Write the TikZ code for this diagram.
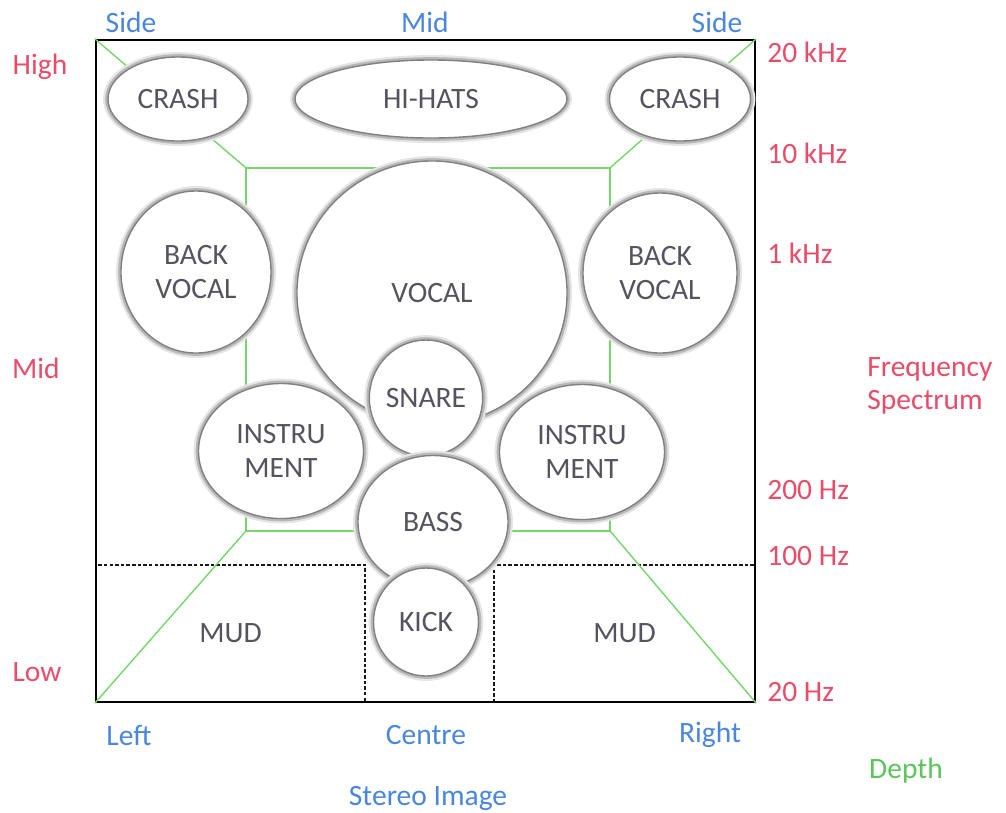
\documentclass[tikz,border=0pt]{standalone}
\usepackage{fontspec}
\setmainfont{Carlito}
\usepackage{xcolor}
\usepackage{tikz}
\usetikzlibrary{shapes.geometric}

\definecolor{freqred}{RGB}{232,76,104}
\definecolor{stereoblue}{RGB}{74,134,222}
\definecolor{depthgreen}{RGB}{92,196,92}
\definecolor{linegreen}{RGB}{118,214,108}
\definecolor{labelgray}{RGB}{84,84,94}
\newcommand\lbl{\fontsize{21}{24}\selectfont}

\begin{document}
\begin{tikzpicture}[x=0.025cm,y=-0.025cm,
  blob/.style={ellipse,draw=black!50,line width=1pt,fill=white,inner sep=0pt,align=center,text=labelgray,font=\lbl,
    preaction={draw=black!10,line width=7pt},preaction={draw=black!28,line width=4pt}},
  mud/.style={draw=black!90,dash pattern=on 2.5pt off 1.5pt,line width=1.1pt,inner sep=0pt,text=labelgray,font=\lbl},
  frq/.style={text=freqred,font=\lbl,inner sep=0pt},
  ste/.style={text=stereoblue,font=\lbl,inner sep=0pt},
  grn/.style={draw=linegreen,line width=1pt}]
\useasboundingbox (0,0) rectangle (1006,812);
% zones
\node[mud,minimum width=6.725cm,minimum height=3.425cm] (mudL) at (230.5,633.5) {MUD};
\node[mud,minimum width=6.525cm,minimum height=3.425cm] (mudR) at (624.5,633.5) {MUD};
\node[grn,minimum width=9.1cm,minimum height=9.075cm] (inner) at (428,349.5) {};
\node[draw,line width=1.6pt,minimum width=16.475cm,minimum height=16.55cm,inner sep=0pt] (frame) at (425.5,371) {};
\draw[grn] (frame.north west)--(inner.north west); \draw[grn] (frame.north east)--(inner.north east);
\draw[grn] (frame.south west)--(inner.south west); \draw[grn] (frame.south east)--(inner.south east);
% instruments
\node[blob,minimum width=3.5cm,minimum height=2.1cm] (crashL) at (178,99) {CRASH};
\node[blob,minimum width=6.8cm,minimum height=1.95cm] (hihats) at (431,99) {HI-HATS};
\node[blob,minimum width=3.525cm,minimum height=2.1cm] (crashR) at (680,99) {CRASH};
\node[blob,minimum width=3.75cm,minimum height=4.05cm] (backL) at (196,272) {BACK\\VOCAL};
\node[blob,minimum width=3.85cm,minimum height=4cm] (backR) at (660,273) {BACK\\VOCAL};
\node[blob,minimum width=6.75cm,minimum height=6.6cm] (vocal) at (432,293) {VOCAL};
\node[blob,minimum width=4.125cm,minimum height=3.375cm] (instL) at (281,451) {INSTRU\\MENT};
\node[blob,minimum width=4.125cm,minimum height=3.375cm] (instR) at (582,452) {INSTRU\\MENT};
\node[blob,minimum width=2.65cm,minimum height=2.9cm] (snare) at (426,398) {SNARE};
\node[blob,minimum width=3.75cm,minimum height=3.325cm] (bass) at (433,522) {BASS};
\node[blob,minimum width=2.625cm,minimum height=2.7cm] (kick) at (426,622) {KICK};
% axes
\node[ste] (sideL) at (131,22) {Side};
\node[ste] (midT) at (425,22) {Mid};
\node[ste] (sideR) at (717,22) {Side};
\node[ste] (left) at (129,735) {Left};
\node[ste] (centre) at (426,735) {Centre};
\node[ste] (right) at (710,735) {Right};
\node[ste] (stereo) at (428,798) {Stereo Image};
\node[text=depthgreen,font=\lbl,inner sep=0pt] (depth) at (906,771) {Depth};
\node[frq] (high) at (40,67) {High};
\node[frq] (midL) at (36,368) {Mid};
\node[frq] (low) at (37,672) {Low};
\node[frq,anchor=west] (f20k) at (767,52) {20 kHz};
\node[frq,anchor=west] (f10k) at (767,153) {10 kHz};
\node[frq,anchor=west] (f1k) at (767,253) {1 kHz};
\node[frq,anchor=west] (f200) at (767,490) {200 Hz};
\node[frq,anchor=west] (f100) at (767,556) {100 Hz};
\node[frq,anchor=west] (f20) at (767,692) {20 Hz};
\node[frq,anchor=west,align=left] (spectrum) at (867,386) {Frequency\\Spectrum};
\end{tikzpicture}
\end{document}
